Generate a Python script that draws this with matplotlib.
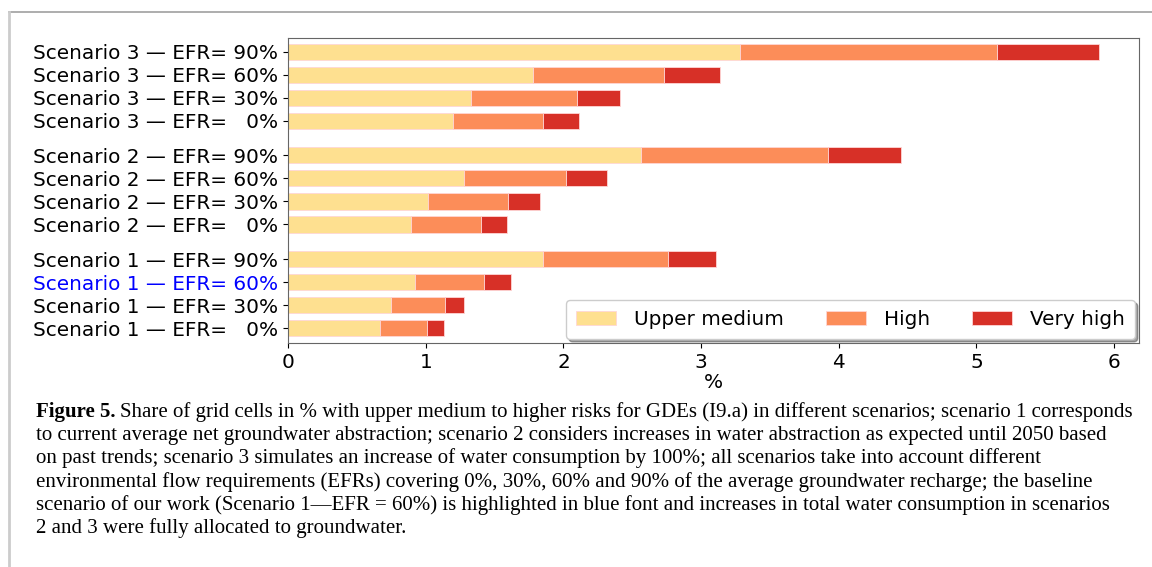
import numpy as np
import matplotlib
matplotlib.use("Agg")
import matplotlib.pyplot as plt
from matplotlib.lines import Line2D

# values, top row first
labels = ["Scenario 3 — EFR= 90%", "Scenario 3 — EFR= 60%", "Scenario 3 — EFR= 30%", "Scenario 3 — EFR=   0%",
          "Scenario 2 — EFR= 90%", "Scenario 2 — EFR= 60%", "Scenario 2 — EFR= 30%", "Scenario 2 — EFR=   0%",
          "Scenario 1 — EFR= 90%", "Scenario 1 — EFR= 60%", "Scenario 1 — EFR= 30%", "Scenario 1 — EFR=   0%"]
upper_medium = [3.28, 1.78, 1.33, 1.20, 2.56, 1.28, 1.02, 0.89, 1.85, 0.92, 0.75, 0.67]
high = [1.87, 0.95, 0.77, 0.65, 1.36, 0.74, 0.58, 0.51, 0.91, 0.50, 0.39, 0.34]
very_high = [0.74, 0.41, 0.31, 0.26, 0.53, 0.30, 0.23, 0.19, 0.35, 0.20, 0.14, 0.12]
ypos = [0, 1, 2, 3, 4.5, 5.5, 6.5, 7.5, 9, 10, 11, 12]
baseline = "Scenario 1 — EFR= 60%"

colors = ["#fee090", "#fc8d59", "#d73027"]
names = ["Upper medium", "High", "Very high"]
fs = 14.4

fig = plt.figure(figsize=(11.52, 5.67), dpi=100)
ax = fig.add_axes([0.25, 0.395, 0.7387, 0.538])

left = np.zeros(len(labels))
for vals, c, n in zip([upper_medium, high, very_high], colors, names):
    ax.barh(ypos, vals, left=left, height=0.7, color=c, edgecolor="#ffd6d6",
            linewidth=0.6, label=n)
    left = left + np.array(vals)

ax.set_yticks(ypos)
ax.set_yticklabels(labels, fontsize=fs)
for t in ax.get_yticklabels():
    if t.get_text() == baseline:
        t.set_color("blue")
ax.set_ylim(12.65, -0.6)
ax.set_xlim(0, 6.18)
ax.set_xticks(range(7))
ax.tick_params(axis="x", labelsize=fs)
ax.set_xlabel("%", fontsize=fs, labelpad=1)
for s in ax.spines.values():
    s.set_color("#666666")

ax.legend(loc="lower right", ncol=3, fontsize=fs, shadow=True,
          columnspacing=2.1, borderaxespad=0.2, handlelength=2.0,
          handletextpad=0.9, borderpad=0.5)

# outer frame of the page
fig.add_artist(Line2D([9 / 1152, 1.0], [1 - 11.5 / 567] * 2, color="#a0a0a0", lw=1.2))
fig.add_artist(Line2D([9 / 1152] * 2, [1 - 11.5 / 567, 0.0], color="#cccccc", lw=2))

# caption
caption = [
    "Share of grid cells in % with upper medium to higher risks for GDEs (I9.a) in different scenarios; scenario 1 corresponds",
    "to current average net groundwater abstraction; scenario 2 considers increases in water abstraction as expected until 2050 based",
    "on past trends; scenario 3 simulates an increase of water consumption by 100%; all scenarios take into account different",
    "environmental flow requirements (EFRs) covering 0%, 30%, 60% and 90% of the average groundwater recharge; the baseline",
    "scenario of our work (Scenario 1\u2014EFR = 60%) is highlighted in blue font and increases in total water consumption in scenarios",
    "2 and 3 were fully allocated to groundwater.",
]
cfont = dict(family="Liberation Serif", fontsize=15.0, va="baseline")
x0 = 36 / 1152
base0 = 417
step = 23.2
bold = fig.text(x0, 1 - base0 / 567, "Figure 5.", fontweight="bold", **cfont)
fig.canvas.draw()
bb = bold.get_window_extent()
x1 = (bb.x1 + 4) / 1152
for i, line in enumerate(caption):
    xx = x1 if i == 0 else x0
    fig.text(xx, 1 - (base0 + i * step) / 567, line, **cfont)

fig.savefig("out.png", dpi=100)
